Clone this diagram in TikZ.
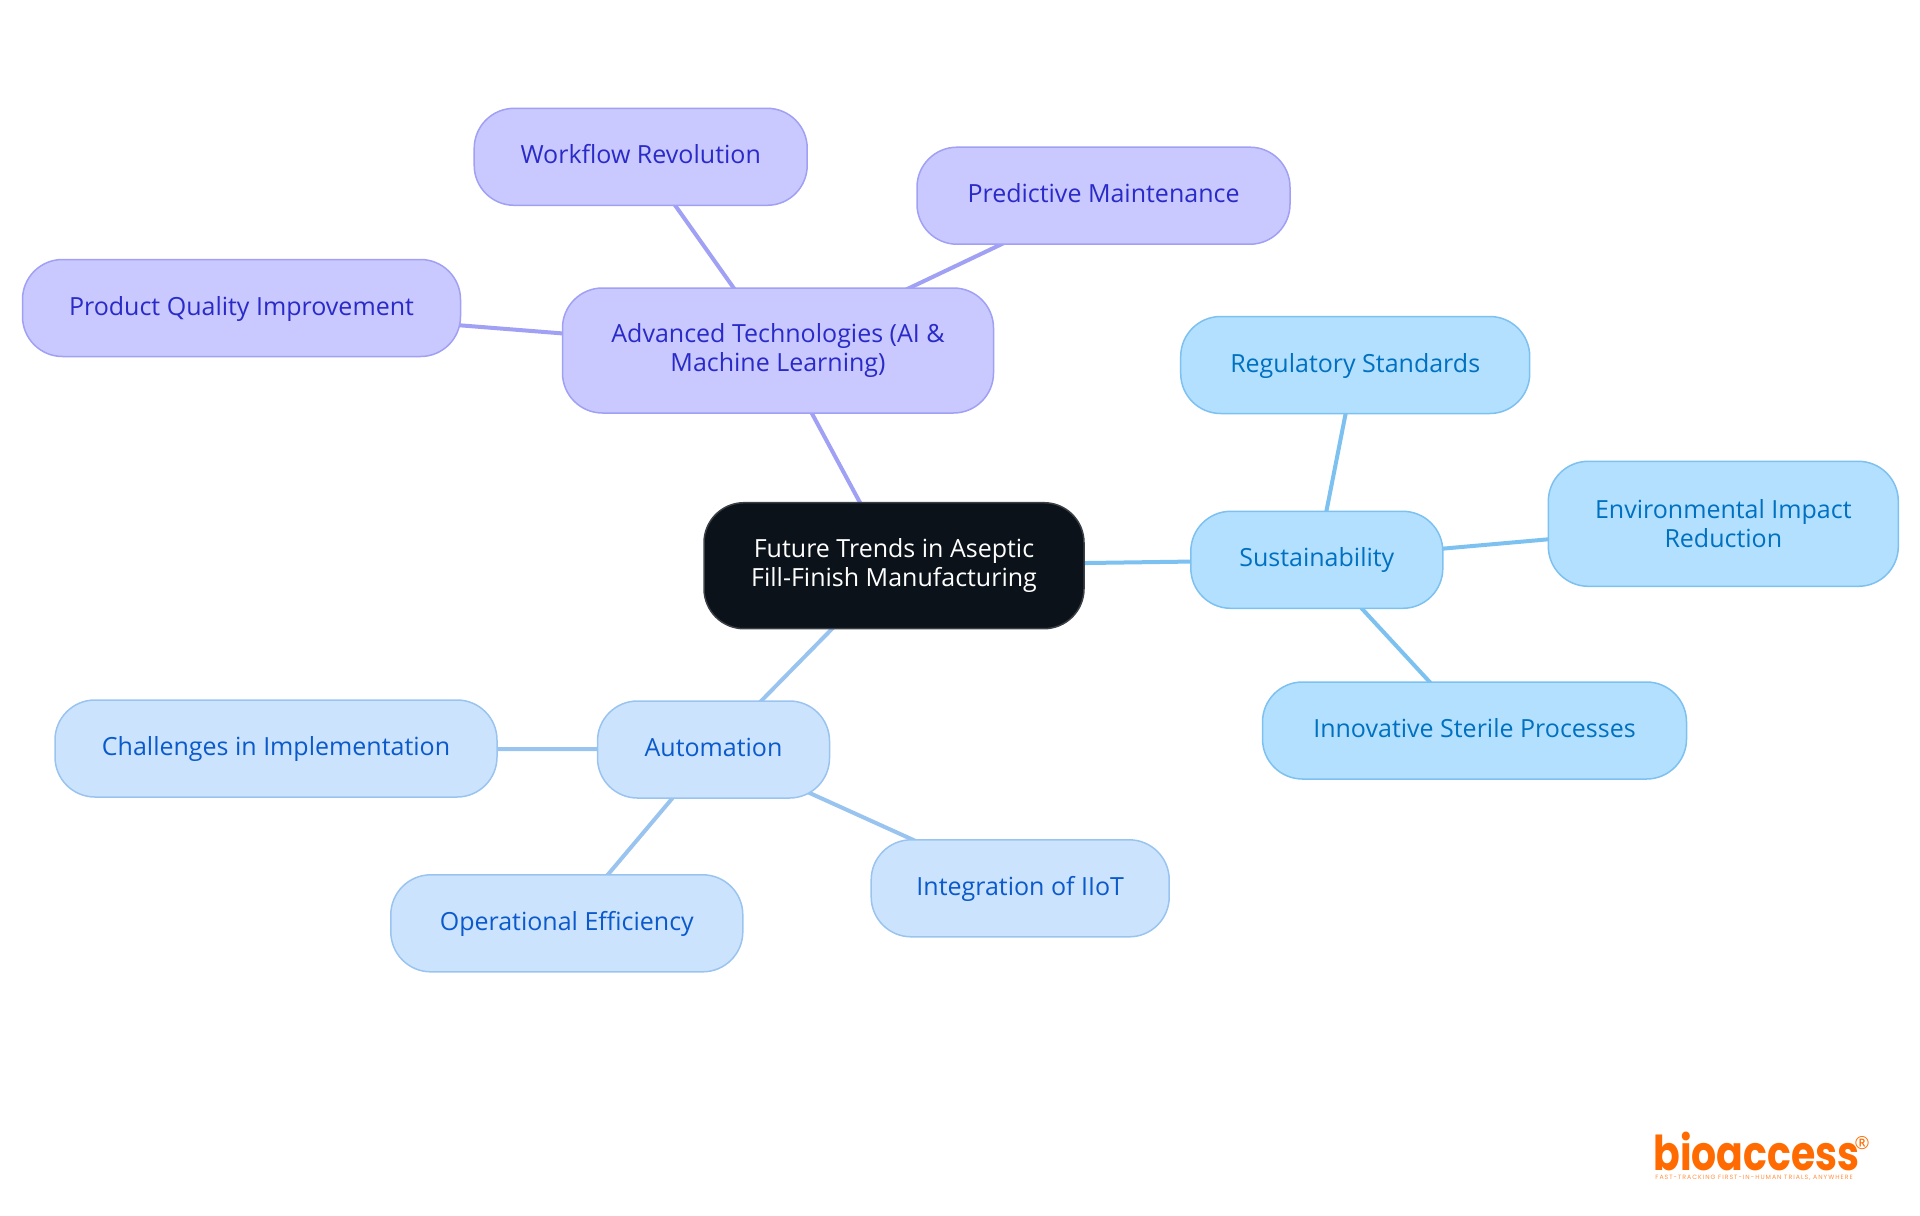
\documentclass[tikz,border=0pt]{standalone}
\usepackage{fontspec}
\setmainfont{Open Sans}
\newfontfamily\logofont[FakeStretch=0.82]{Poppins}
\newfontfamily\tagfont[LetterSpace=16]{Poppins}
\usetikzlibrary{backgrounds}
\definecolor{rootfill}{HTML}{0B1219}
\definecolor{rootline}{HTML}{3B4046}
\definecolor{techfill}{HTML}{C9C9FF}
\definecolor{techline}{HTML}{A0A0F5}
\definecolor{techtext}{HTML}{2A2AC8}
\definecolor{greenfill}{HTML}{B3E0FF}
\definecolor{greenline}{HTML}{7DC1F0}
\definecolor{greentext}{HTML}{0070C0}
\definecolor{autofill}{HTML}{CCE3FD}
\definecolor{autoline}{HTML}{9AC4F0}
\definecolor{autotext}{HTML}{0B5ACB}
\definecolor{logoorange}{HTML}{FF6B00}
\tikzstyle{topic} = [rectangle, draw, rounded corners=20pt, align=center, inner sep=0pt,
    line width=0.75pt, minimum height=48.5pt, font=\fontsize{12.5}{14.7}\selectfont]
\tikzstyle{oneline} = [text height=10pt, text depth=3pt]
\tikzstyle{root} = [topic, fill=rootfill, draw=rootline, text=white]
\tikzstyle{tech} = [topic, fill=techfill, draw=techline, text=techtext]
\tikzstyle{sust} = [topic, fill=greenfill, draw=greenline, text=greentext]
\tikzstyle{auto} = [topic, fill=autofill, draw=autoline, text=autotext]
\tikzstyle{line} = [draw, line width=2pt]

\begin{document}
\begin{tikzpicture}[x=0.5pt, y=-0.5pt]
    \useasboundingbox (0,0) rectangle (1920,1215);
    % Place nodes
    \node [root, minimum width=190pt, minimum height=63pt] (trends) at (894,565.7) {Future Trends in Aseptic\\Fill-Finish Manufacturing};
    \node [tech, minimum width=215.5pt, minimum height=62.5pt] (advanced) at (778,350.5) {Advanced Technologies (AI \&\\Machine Learning)};
    \node [tech, oneline, minimum width=166.5pt] (workflow) at (640.7,156.8) {Workflow Revolution};
    \node [tech, oneline, minimum width=186.5pt] (predictive) at (1103.5,195.7) {Predictive Maintenance};
    \node [tech, oneline, minimum width=219pt] (quality) at (241.5,308) {Product Quality Improvement};
    \node [sust, oneline, minimum width=126pt] (sustain) at (1316.8,559.8) {Sustainability};
    \node [sust, oneline, minimum width=174.5pt] (regulatory) at (1355.2,365) {Regulatory Standards};
    \node [sust, minimum width=175pt, minimum height=62.5pt] (impact) at (1723.3,523.8) {Environmental Impact\\Reduction};
    \node [sust, oneline, minimum width=212pt] (sterile) at (1474.5,730.5) {Innovative Sterile Processes};
    \node [auto, oneline, minimum width=116pt] (automation) at (713.5,749.5) {Automation};
    \node [auto, oneline, minimum width=221pt] (challenges) at (276,748.5) {Challenges in Implementation};
    \node [auto, oneline, minimum width=176pt] (efficiency) at (566.8,923.3) {Operational Efficiency};
    \node [auto, oneline, minimum width=149pt] (iiot) at (1020.2,888.3) {Integration of IIoT};
    % Logo
    \node [inner sep=0pt, anchor=base west, text=logoorange, font=\logofont\bfseries\fontsize{24}{24}\selectfont] (logo) at (1653,1170) {bioaccess};
    \node [inner sep=0pt, text=logoorange, font=\fontsize{9}{9}\selectfont] (logomark) at (1862,1143) {®};
    \node [inner sep=0pt, anchor=base west, text=logoorange!75, font=\tagfont\fontsize{3.1}{3}\selectfont] (tagline) at (1655,1179) {FAST-TRACKING FIRST-IN-HUMAN TRIALS, ANYWHERE};
    % Draw edges
    \begin{pgfonlayer}{background}
    \path [line, draw=techline] (trends.center) -- (advanced.center);
    \path [line, draw=techline] (advanced.center) -- (workflow.center);
    \path [line, draw=techline] (advanced.center) -- (predictive.center);
    \path [line, draw=techline] (advanced.center) -- (quality.center);
    \path [line, draw=greenline] (trends.center) -- (sustain.center);
    \path [line, draw=greenline] (sustain.center) -- (regulatory.center);
    \path [line, draw=greenline] (sustain.center) -- (impact.center);
    \path [line, draw=greenline] (sustain.center) -- (sterile.center);
    \path [line, draw=autoline] (trends.center) -- (automation.center);
    \path [line, draw=autoline] (automation.center) -- (challenges.center);
    \path [line, draw=autoline] (automation.center) -- (efficiency.center);
    \path [line, draw=autoline] (automation.center) -- (iiot.center);
    \end{pgfonlayer}
\end{tikzpicture}
\end{document}
